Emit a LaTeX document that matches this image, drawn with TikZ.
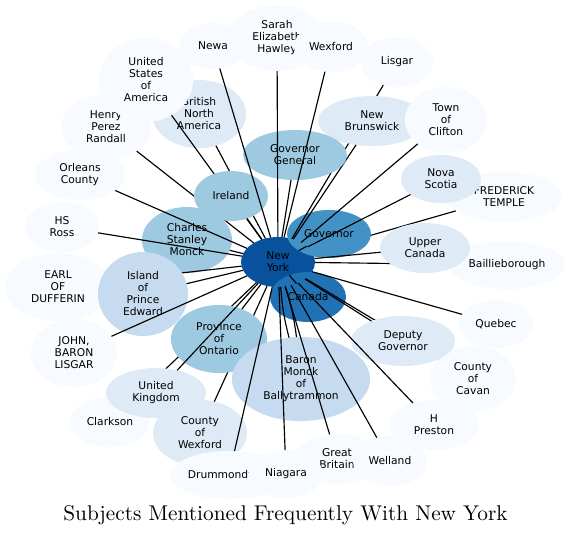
\documentclass[tikz,border=0pt]{standalone}
\usepackage{fontspec}
\newfontfamily\dejavu{DejaVu Sans}
\newfontfamily\ttlfont{lmroman10-regular.otf}
\usetikzlibrary{shapes.geometric}
\definecolor{bA}{HTML}{F7FBFF}
\definecolor{bB}{HTML}{DEEBF7}
\definecolor{bC}{HTML}{C6DBEF}
\definecolor{bD}{HTML}{9ECAE1}
\definecolor{bF}{HTML}{4292C6}
\definecolor{bG}{HTML}{2171B5}
\definecolor{bH}{HTML}{08519C}
\newcommand\ndfont{\dejavu\fontsize{10.7}{12}\selectfont}
\begin{document}
\begin{tikzpicture}[x=1pt,y=-1pt,
  nd/.style={ellipse, inner sep=0pt, outer sep=0pt, align=center, font=\ndfont, text=black},
  ed/.style={draw=black, line width=1.15pt},
  ttl/.style={font=\ttlfont\fontsize{21.3}{25}\selectfont, anchor=base, inner sep=0pt}]
\useasboundingbox (0,0) rectangle (570,536);
\fill[white] (0,0) rectangle (570,536);

\node[nd, fill=bH, minimum width=74pt, minimum height=50pt] (ny) at (278,262) {New\\York};

\node[nd, fill=bA, minimum width=116pt, minimum height=50pt] (fred) at (504,197) {FREDERICK\\TEMPLE};
\draw[ed] (ny) -- (fred);
\node[nd, fill=bF, minimum width=84pt, minimum height=48pt] (gov) at (329,234) {Governor};
\draw[ed] (ny) -- (gov);
\node[nd, fill=bA, minimum width=116pt, minimum height=48pt] (baill) at (507,265) {Baillieborough};
\draw[ed] (ny) -- (baill);
\node[nd, fill=bB, minimum width=90pt, minimum height=50pt] (uc) at (425,248) {Upper\\Canada};
\draw[ed] (ny) -- (uc);
\node[nd, fill=bB, minimum width=80pt, minimum height=48pt] (ns) at (441,179) {Nova\\Scotia};
\draw[ed] (ny) -- (ns);
\node[nd, fill=bA, minimum width=72pt, minimum height=50pt] (lisgar) at (397,62) {Lisgar};
\draw[ed] (ny) -- (lisgar);
\node[nd, fill=bB, minimum width=108pt, minimum height=50pt] (nb) at (372,121) {New\\Brunswick};
\draw[ed] (ny) -- (nb);
\node[nd, fill=bA, minimum width=82pt, minimum height=66pt] (toc) at (446,120) {Town\\of\\Clifton};
\draw[ed] (ny) -- (toc);
\node[nd, fill=bD, minimum width=104pt, minimum height=50pt] (govgen) at (295,155) {Governor\\General};
\draw[ed] (ny) -- (govgen);
\node[nd, fill=bD, minimum width=90pt, minimum height=66pt] (csm) at (187,240) {Charles\\Stanley\\Monck};
\draw[ed] (ny) -- (csm);
\node[nd, fill=bA, minimum width=90pt, minimum height=66pt] (henry) at (106,127) {Henry\\Perez\\Randall};
\draw[ed] (ny) -- (henry);
\node[nd, fill=bB, minimum width=94pt, minimum height=68pt] (bna) at (199,114) {British\\North\\America};
\draw[ed] (ny) -- (bna);
\node[nd, fill=bA, minimum width=94pt, minimum height=84pt] (usa) at (146,80) {United\\States\\of\\America};
\draw[ed] (ny) -- (usa);
\node[nd, fill=bD, minimum width=74pt, minimum height=50pt] (ireland) at (231,196) {Ireland};
\draw[ed] (ny) -- (ireland);
\node[nd, fill=bA, minimum width=66pt, minimum height=46pt] (newa) at (213,46) {Newa};
\draw[ed] (ny) -- (newa);
\node[nd, fill=bA, minimum width=96pt, minimum height=66pt] (sarah) at (277,38) {Sarah\\Elizabeth\\Hawley};
\draw[ed] (ny) -- (sarah);
\node[nd, fill=bA, minimum width=74pt, minimum height=50pt] (wexford) at (331,47) {Wexford};
\draw[ed] (ny) -- (wexford);
\node[nd, fill=bA, minimum width=90pt, minimum height=50pt] (orleans) at (80,175) {Orleans\\County};
\draw[ed] (ny) -- (orleans);
\node[nd, fill=bA, minimum width=74pt, minimum height=50pt] (hsross) at (62,227) {HS\\Ross};
\draw[ed] (ny) -- (hsross);
\node[nd, fill=bA, minimum width=106pt, minimum height=68pt] (earl) at (58,287) {EARL\\OF\\DUFFERIN};
\draw[ed] (ny) -- (earl);
\node[nd, fill=bC, minimum width=90pt, minimum height=84pt] (island) at (143,294) {Island\\of\\Prince\\Edward};
\draw[ed] (ny) -- (island);
\node[nd, fill=bA, minimum width=86pt, minimum height=68pt] (john) at (74,353) {JOHN,\\BARON\\LISGAR};
\draw[ed] (ny) -- (john);
\node[nd, fill=bA, minimum width=80pt, minimum height=50pt] (clarkson) at (110,422) {Clarkson};
\draw[ed] (ny) -- (clarkson);
\node[nd, fill=bB, minimum width=94pt, minimum height=66pt] (cow) at (200,433) {County\\of\\Wexford};
\draw[ed] (ny) -- (cow);
\node[nd, fill=bD, minimum width=96pt, minimum height=68pt] (prov) at (219,339) {Province\\of\\Ontario};
\draw[ed] (ny) -- (prov);
\node[nd, fill=bB, minimum width=100pt, minimum height=50pt] (uk) at (156,393) {United\\Kingdom};
\draw[ed] (ny) -- (uk);
\node[nd, fill=bG, minimum width=76pt, minimum height=50pt] (canada) at (308,297) {Canada};
\draw[ed] (ny) -- (canada);
\node[nd, fill=bC, minimum width=138pt, minimum height=84pt] (baron) at (301,379) {Baron\\Monck\\of\\Ballytrammon};
\draw[ed] (ny) to[bend left=5] (baron);
\draw[ed] (ny) to[bend right=5] (baron);
\node[nd, fill=bA, minimum width=118pt, minimum height=48pt] (drum) at (229,475) {Drummondville};
\draw[ed] (ny) -- (drum);
\node[nd, fill=bA, minimum width=84pt, minimum height=50pt] (gb) at (337,459) {Great\\Britain};
\draw[ed] (ny) -- (gb);
\node[nd, fill=bA, minimum width=74pt, minimum height=48pt] (niagara) at (286,474) {Niagara};
\draw[ed] (ny) -- (niagara);
\node[nd, fill=bA, minimum width=74pt, minimum height=50pt] (welland) at (390,461) {Welland};
\draw[ed] (ny) -- (welland);
\node[nd, fill=bA, minimum width=86pt, minimum height=66pt] (cavan) at (473,379) {County\\of\\Cavan};
\draw[ed] (ny) -- (cavan);
\node[nd, fill=bB, minimum width=104pt, minimum height=50pt] (deputy) at (403,341) {Deputy\\Governor};
\draw[ed] (ny) -- (deputy);
\node[nd, fill=bA, minimum width=90pt, minimum height=50pt] (hpreston) at (434,425) {H\\Preston};
\draw[ed] (ny) -- (hpreston);
\node[nd, fill=bA, minimum width=74pt, minimum height=48pt] (quebec) at (496,324) {Quebec};
\draw[ed] (ny) -- (quebec);

\node[ttl] (title) at (285.5,520) {Subjects Mentioned Frequently With New York};
\end{tikzpicture}
\end{document}
